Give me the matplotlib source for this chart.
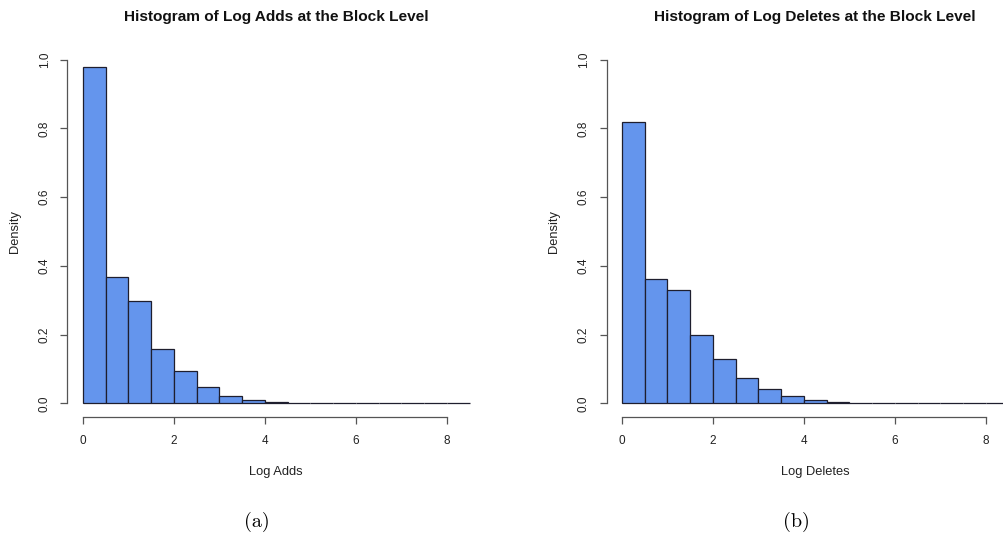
import numpy as np
from matplotlib import pyplot as plt

# bin edges shared by both histograms (width 0.5 on the log scale)
edges = np.arange(0, 8.51, 0.5)

# densities per bin
adds_density = [0.980, 0.368, 0.298, 0.159, 0.093, 0.047, 0.023, 0.011,
                0.005, 0.0025, 0.0012, 0.0006, 0.0004, 0.0003, 0.0002, 0.0002, 0.0001]
deletes_density = [0.820, 0.362, 0.329, 0.199, 0.130, 0.074, 0.042, 0.022,
                   0.011, 0.005, 0.0022, 0.0010, 0.0005, 0.0003, 0.0002, 0.0002, 0.0001]

titles = ["Histogram of Log Adds at the Block Level",
          "Histogram of Log Deletes at the Block Level"]
xlabels = ["Log Adds", "Log Deletes"]
captions = ["(a)", "(b)"]
xticks = [0, 2, 4, 6, 8]
yticks = [0.0, 0.2, 0.4, 0.6, 0.8, 1.0]

plt.rcParams['font.family'] = ['Liberation Sans', 'DejaVu Sans']

fig = plt.figure(figsize=(10.04, 5.37), dpi=100)

W, H = 1004.0, 537.0
lefts = [67.5, 606.5]
width_px = 417.5
top_px, bottom_px = 46.0, 417.2

for k, dens in enumerate([adds_density, deletes_density]):
    ax = fig.add_axes([lefts[k] / W, 1 - bottom_px / H, width_px / W,
                       (bottom_px - top_px) / H])
    ax.bar(edges[:-1], dens, width=np.diff(edges), align='edge',
           color='#6495ED', edgecolor='#1e1e2e', linewidth=0.9)
    ax.set_xlim(-0.34, 8.84)
    ax.set_ylim(-0.04, 1.04)

    for s in ['top', 'right']:
        ax.spines[s].set_visible(False)
    ax.spines['left'].set_bounds(0, 1)
    ax.spines['bottom'].set_bounds(0, 8)
    for s in ['left', 'bottom']:
        ax.spines[s].set_color('#555555')
        ax.spines[s].set_linewidth(0.9)

    ax.set_xticks(xticks)
    ax.set_xticklabels([str(v) for v in xticks])
    ax.set_yticks(yticks)
    ax.set_yticklabels(["%.1f" % v for v in yticks], rotation=90, va='center')
    ax.tick_params(length=5, width=0.9, color='#555555', labelsize=8.5,
                   labelcolor='#222222')
    ax.tick_params(axis='x', pad=7.5)
    ax.tick_params(axis='y', pad=7)

    ax.set_xlabel(xlabels[k], fontsize=9.3, color='#222222')
    ax.xaxis.set_label_coords(0.5, -0.131)
    ax.set_ylabel("Density", fontsize=9.3, color='#222222')
    ax.yaxis.set_label_coords(-0.112, 0.5)

    cx = (lefts[k] + width_px / 2) / W
    fig.text(cx, 1 - 16.5 / H, titles[k], ha='center', va='center',
             fontsize=11.1, fontweight='bold', color='#111111')

# subfigure captions
fig.text(257 / W, 1 - 522 / H, captions[0], ha='center', va='center',
         fontsize=14.5, family='cmr10')
fig.text(796 / W, 1 - 522 / H, captions[1], ha='center', va='center',
         fontsize=14.5, family='cmr10')

fig.savefig("out.png", dpi=100)
